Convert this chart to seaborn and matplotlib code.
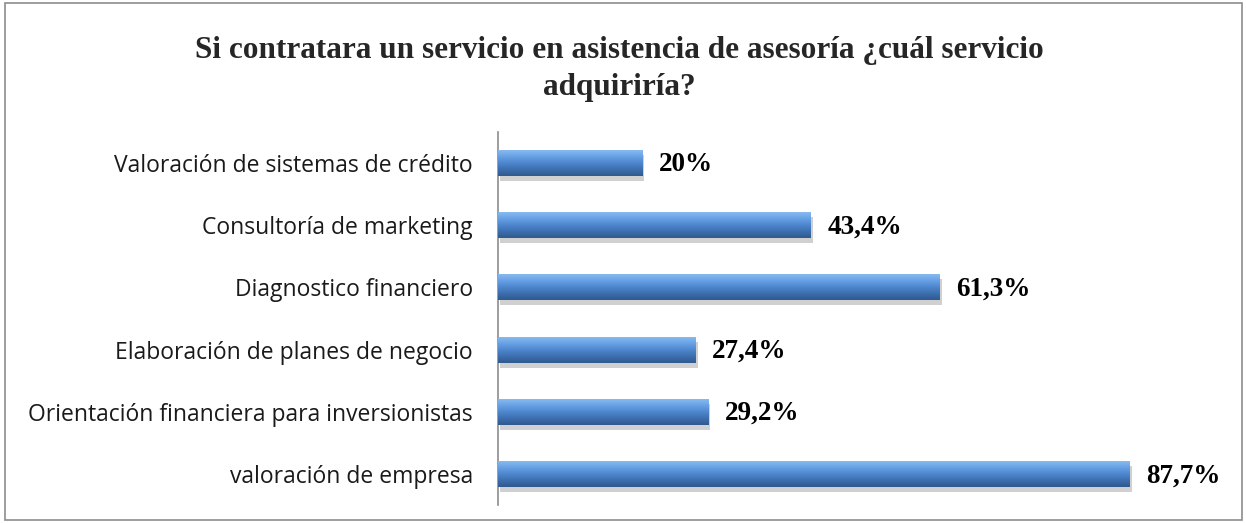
import matplotlib
matplotlib.use("Agg")
import matplotlib.pyplot as plt
import seaborn as sns
import numpy as np
import pandas as pd
from matplotlib.colors import LinearSegmentedColormap
from matplotlib.patches import Rectangle

categories = [
    "Valoración de sistemas de crédito",
    "Consultoría de marketing",
    "Diagnostico financiero",
    "Elaboración de planes de negocio",
    "Orientación financiera para inversionistas",
    "valoración de empresa",
]
values = [20.0, 43.4, 61.3, 27.4, 29.2, 87.7]
value_labels = ["20%", "43,4%", "61,3%", "27,4%", "29,2%", "87,7%"]
title = "Si contratara un servicio en asistencia de asesoría ¿cuál servicio\nadquiriría?"

df = pd.DataFrame({"cat": categories, "val": values})

sns.set_theme(style="white")
plt.rcParams["font.family"] = ["Open Sans", "DejaVu Sans"]

fig = plt.figure(figsize=(12.46, 5.23), dpi=100)
ax = fig.add_axes([0.3997, 0.0344, 0.578, 0.7132])

sns.barplot(data=df, x="val", y="cat", orient="h", color="#4f81bd",
            width=0.42, ax=ax, saturation=1)

ax.set_xlim(0, 100)
cmap = LinearSegmentedColormap.from_list(
    "bar", ["#8cbdf2", "#6aa4e6", "#4f88d0", "#3d70b0", "#30598f"])
grad = np.linspace(0, 1, 64).reshape(-1, 1)
for p in list(ax.patches):
    x0, y0 = p.get_x(), p.get_y()
    w, h = p.get_width(), p.get_height()
    sh = Rectangle((x0 + 0.3, y0 + 0.08), w, h, facecolor="#d0d0d0",
                   edgecolor="none", zorder=1)
    ax.add_patch(sh)
    p.set_zorder(2)
    p.set_edgecolor("none")
    im = ax.imshow(grad, cmap=cmap, aspect="auto",
                   extent=(x0, x0 + w, y0 + h, y0), zorder=3,
                   interpolation="bilinear")
    im.set_clip_path(p)
ax.set_xlim(0, 100)
ax.set_ylim(len(categories) - 0.5, -0.5)

for i, (v, lab) in enumerate(zip(values, value_labels)):
    ax.text(v + 2.3, i + 0.03, lab, va="center", ha="left",
            fontsize=19.5, fontweight="bold", family="Liberation Serif",
            color="black")

ax.set_xlabel("")
ax.set_ylabel("")
ax.set_xticks([])
ax.tick_params(axis="y", length=0, pad=18, labelsize=16.5, labelcolor="#1a1a1a")
for s in ["top", "right", "bottom"]:
    ax.spines[s].set_visible(False)
ax.spines["left"].set_color("#8c8c8c")
ax.spines["left"].set_linewidth(1.2)

fig.text(0.497, 0.868, title, ha="center", va="center", fontsize=22.5,
         fontweight="bold", family="Liberation Serif", linespacing=1.4)

border = Rectangle((0.004, 0.006), 0.993, 0.988, transform=fig.transFigure,
                   fill=False, edgecolor="#8c8c8c", linewidth=1.2)
fig.add_artist(border)

fig.savefig("out.png", dpi=100, facecolor="white")
